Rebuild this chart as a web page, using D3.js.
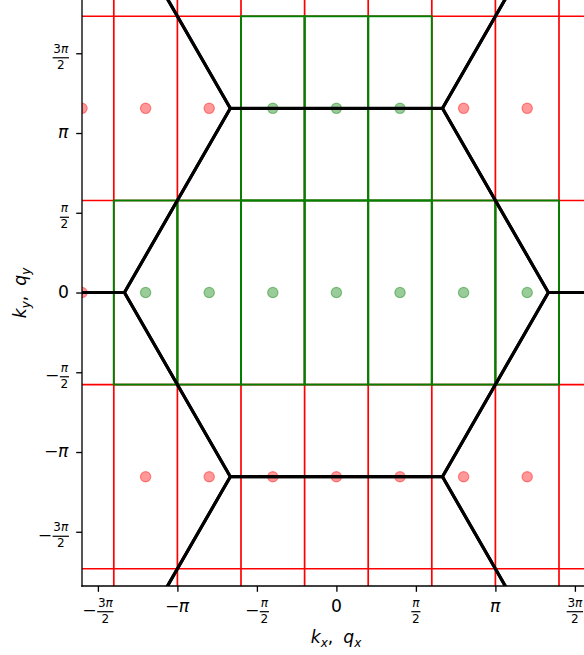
<!DOCTYPE html>
<html>
<head>
<meta charset="utf-8">
<script src="https://cdn.jsdelivr.net/npm/d3@7"></script>
<style>
  html, body { margin: 0; padding: 0; background: #fff; }
  svg { display: block; }
  text { font-family: "DejaVu Sans", sans-serif; fill: #000; }
</style>
</head>
<body>
<svg id="chart" width="584" height="655"></svg>
<script>
// All coordinates are in units of π.

// Tick positions and their labels
const tickValues = [-1.5, -1, -0.5, 0, 0.5, 1, 1.5];
const tickLabels = [
  { sign: "−", num: "3π", den: "2" },
  { sign: "−", text: "π" },
  { sign: "−", num: "π", den: "2" },
  { text: "0" },
  { num: "π", den: "2" },
  { text: "π" },
  { num: "3π", den: "2" }
];

// Red grid lines of the sampling cells
const gridX = [-1.4, -1.0, -0.6, -0.2, 0.2, 0.6, 1.0, 1.4];
const gridY = [-1.732, -0.577, 0.577, 1.732];

// Sample points outside the selected cells
const redX = [-1.6, -1.2, -0.8, 0.8, 1.2, 1.6,
              -1.6, 1.6,
              -1.2, -0.8, -0.4, 0, 0.4, 0.8, 1.2];
const redY = [1.155, 1.155, 1.155, 1.155, 1.155, 1.155,
              0, 0,
              -1.155, -1.155, -1.155, -1.155, -1.155, -1.155, -1.155];

// Sample points inside the selected cells
const greenX = [-0.4, 0, 0.4,
                -1.2, -0.8, -0.4, 0, 0.4, 0.8, 1.2];
const greenY = [1.155, 1.155, 1.155,
                0, 0, 0, 0, 0, 0, 0];

// Brillouin zone centres (reciprocal lattice) and hexagon corners
const zoneCx = [0, 0, 0, 2, 2, -2, -2];
const zoneCy = [0, 2.309, -2.309, 1.155, -1.155, 1.155, -1.155];
const hexVx = [1.333, 0.667, -0.667, -1.333, -0.667, 0.667];
const hexVy = [0, 1.155, 1.155, 0, -1.155, -1.155];

const svg = d3.select("#chart");
const left = 82, bottom = 586;

const x = d3.scaleLinear().domain([-1.6, 1.6]).range([left, left + 3.2 * 159]);
const y = d3.scaleLinear().domain([-1.84, 1.84]).range([bottom, bottom - 3.68 * 159.5]);

svg.append("defs").append("clipPath").attr("id", "plotclip")
  .append("rect")
  .attr("x", x.range()[0]).attr("y", y.range()[1])
  .attr("width", x.range()[1] - x.range()[0])
  .attr("height", y.range()[0] - y.range()[1]);

const plot = svg.append("g").attr("clip-path", "url(#plotclip)");

// red cell boundaries across the whole plane
plot.append("g").selectAll("line").data(gridX).join("line")
  .attr("x1", d => x(d)).attr("x2", d => x(d))
  .attr("y1", y.range()[0]).attr("y2", y.range()[1])
  .attr("stroke", "red").attr("stroke-width", 1.7);
plot.append("g").selectAll("line").data(gridY).join("line")
  .attr("y1", d => y(d)).attr("y2", d => y(d))
  .attr("x1", x.range()[0]).attr("x2", x.range()[1])
  .attr("stroke", "red").attr("stroke-width", 1.7);

// green cells: each bounded by the grid lines around its point
const greenPts = greenX.map((v, i) => ({ x: v, y: greenY[i] }));
const cellOf = p => ({
  x0: d3.max(gridX.filter(g => g < p.x)),
  x1: d3.min(gridX.filter(g => g > p.x)),
  y0: d3.max(gridY.filter(g => g < p.y)),
  y1: d3.min(gridY.filter(g => g > p.y))
});
plot.append("g").selectAll("rect").data(greenPts.map(cellOf)).join("rect")
  .attr("x", c => x(c.x0)).attr("width", c => x(c.x1) - x(c.x0))
  .attr("y", c => y(c.y1)).attr("height", c => y(c.y0) - y(c.y1))
  .attr("fill", "none").attr("stroke", "green").attr("stroke-width", 1.9);

// sample points
const redPts = redX.map((v, i) => ({ x: v, y: redY[i] }));
const dots = plot.append("g");
dots.selectAll("circle.r").data(redPts).join("circle").attr("class", "r")
  .attr("cx", d => x(d.x)).attr("cy", d => y(d.y)).attr("r", 5.2)
  .attr("fill", "red").attr("fill-opacity", 0.4)
  .attr("stroke", "red").attr("stroke-opacity", 0.4).attr("stroke-width", 1.2);
dots.selectAll("circle.g").data(greenPts).join("circle").attr("class", "g")
  .attr("cx", d => x(d.x)).attr("cy", d => y(d.y)).attr("r", 5.2)
  .attr("fill", "green").attr("fill-opacity", 0.4)
  .attr("stroke", "green").attr("stroke-opacity", 0.4).attr("stroke-width", 1.2);

// Brillouin zone hexagons
const hexLine = d3.line().x(d => x(d[0])).y(d => y(d[1])).curve(d3.curveLinearClosed);
const zones = zoneCx.map((cx, i) => hexVx.map((vx, k) => [cx + vx, zoneCy[i] + hexVy[k]]));
plot.append("g").selectAll("path").data(zones).join("path")
  .attr("d", hexLine)
  .attr("fill", "none").attr("stroke", "#000").attr("stroke-width", 3.1)
  .attr("stroke-linejoin", "miter");

// axes (ticks only; labels are typeset below)
const tickLen = 5.8;
const xAxis = svg.append("g").attr("transform", `translate(0,${bottom})`)
  .call(d3.axisBottom(x).tickValues(tickValues).tickSize(tickLen).tickFormat(""));
const yAxis = svg.append("g").attr("transform", `translate(${left},0)`)
  .call(d3.axisLeft(y).tickValues(tickValues).tickSize(tickLen).tickFormat(""));
[xAxis, yAxis].forEach(a => {
  a.select(".domain").remove();
  a.selectAll(".tick line").attr("stroke", "#000").attr("stroke-width", 1.33);
});

// spines
svg.append("line").attr("x1", left).attr("x2", left)
  .attr("y1", y.range()[1]).attr("y2", bottom + 0.67)
  .attr("stroke", "#000").attr("stroke-width", 1.33);
svg.append("line").attr("x1", left - 0.67).attr("x2", x.range()[1])
  .attr("y1", bottom).attr("y2", bottom)
  .attr("stroke", "#000").attr("stroke-width", 1.33);

// math-style label builder: optional sign, then a symbol or a fraction
const FS = 17.2, FS_SMALL = 12;
function buildLabel(parent, lab) {
  const g = parent.append("g");
  let cx = 0;
  if (lab.sign) {
    const t = g.append("text").attr("x", cx).attr("y", 0)
      .style("font-size", FS + "px").text(lab.sign);
    cx += t.node().getComputedTextLength() - 0.5;
  }
  if (lab.text) {
    g.append("text").attr("x", cx).attr("y", 0)
      .style("font-size", FS + "px")
      .style("font-style", lab.text === "π" ? "italic" : "normal")
      .text(lab.text);
  } else {
    const barY = -4.7;
    const n = g.append("text").attr("y", barY - 4.8)
      .style("font-size", FS_SMALL + "px").style("font-style", "italic")
      .attr("text-anchor", "middle");
    // digits upright, π italic
    const m = lab.num.match(/^(\d*)(π)$/);
    if (m && m[1]) {
      n.append("tspan").style("font-style", "normal").text(m[1]);
      n.append("tspan").text(m[2]);
    } else {
      n.text(lab.num);
    }
    const d = g.append("text").attr("y", barY + 11)
      .style("font-size", FS_SMALL + "px").attr("text-anchor", "middle").text(lab.den);
    const w = Math.max(n.node().getComputedTextLength(), d.node().getComputedTextLength()) + 1.5;
    n.attr("x", cx + 1 + w / 2);
    d.attr("x", cx + 1 + w / 2);
    g.append("rect").attr("x", cx + 1).attr("y", barY - 0.6)
      .attr("width", w).attr("height", 1.2).attr("fill", "#000");
  }
  return g;
}

// x tick labels
tickValues.forEach((v, i) => {
  const lab = tickLabels[i];
  const g = buildLabel(svg, lab);
  const bb = g.node().getBBox();
  const base = lab.text ? 611.5 : 616.4;
  g.attr("transform", `translate(${x(v) - (bb.x + bb.width / 2)},${base})`);
});

// y tick labels
tickValues.forEach((v, i) => {
  const lab = tickLabels[i];
  const g = buildLabel(svg, lab);
  const bb = g.node().getBBox();
  const base = lab.text ? y(v) + 5.4 : y(v) + 9.2;
  g.attr("transform", `translate(${69 - (bb.x + bb.width)},${base})`);
});

// axis titles
function axisTitle(parent, a, b) {
  const t = parent.append("text").style("font-size", FS + "px");
  t.append("tspan").style("font-style", "italic").text(a);
  t.append("tspan").style("font-style", "italic").style("font-size", FS_SMALL + "px")
    .attr("dy", 3.5).text(b);
  t.append("tspan").attr("dy", -3.5).text(",");
  t.append("tspan").attr("dx", 10).style("font-style", "italic").text("q");
  t.append("tspan").style("font-style", "italic").style("font-size", FS_SMALL + "px")
    .attr("dy", 3.5).text(b);
  return t;
}
const xt = axisTitle(svg, "k", "x");
xt.attr("x", 0).attr("y", 643);
const xbb = xt.node().getBBox();
xt.attr("x", x(0) - xbb.width / 2 - xbb.x);

const yg = svg.append("g").attr("transform", `translate(26,${y(0)}) rotate(-90)`);
const yt = axisTitle(yg, "k", "y");
yt.attr("x", 0).attr("y", 0);
const ybb = yt.node().getBBox();
yt.attr("x", -ybb.width / 2 - ybb.x);
</script>
</body>
</html>
